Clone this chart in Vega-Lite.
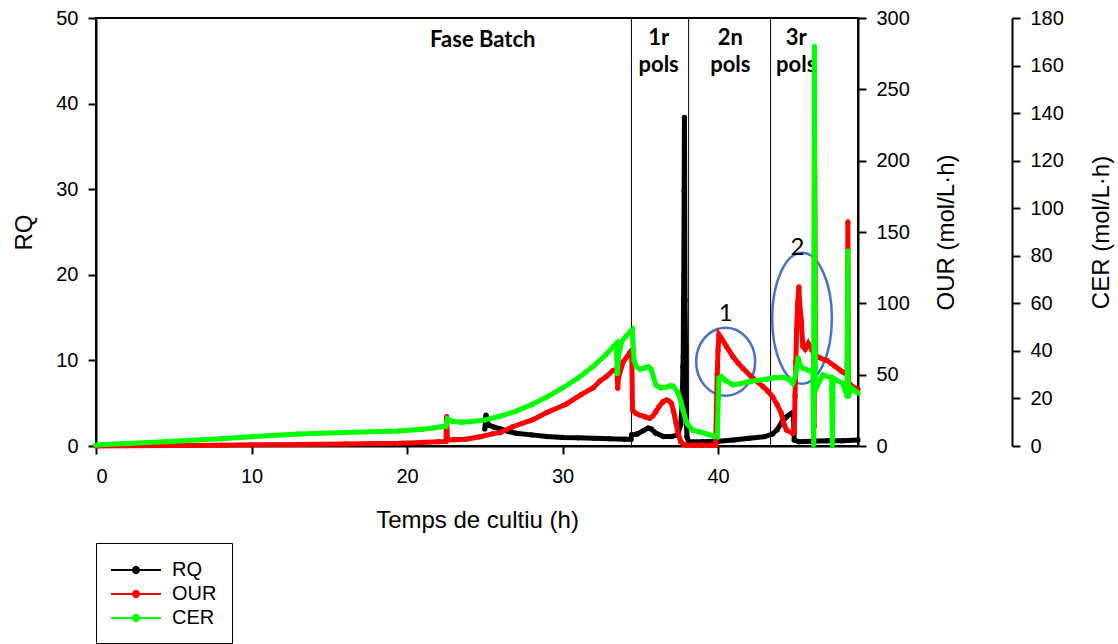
{
  "$schema": "https://vega.github.io/schema/vega-lite/v6.json",
  "width": 762,
  "height": 428,
  "autosize": {"type": "none"},
  "padding": {"left": 96, "top": 18, "right": 260, "bottom": 198},
  "background": "white",
  "config": {
    "view": {"stroke": "black", "strokeWidth": 2},
    "axis": {
      "grid": false,
      "domainColor": "black",
      "domainWidth": 2,
      "tickColor": "black",
      "tickWidth": 2,
      "tickSize": 8,
      "labelFont": "Liberation Sans",
      "labelFontSize": 20,
      "labelColor": "black",
      "labelPadding": 10,
      "titleFont": "Liberation Sans",
      "titleFontSize": 24,
      "titleFontWeight": "normal",
      "titleColor": "black"
    }
  },
  "datasets": {
    "rq": [
      {"t": 25.0, "v": 2.0}, {"t": 25.08, "v": 3.6}, {"t": 25.15, "v": 2.8}, {"t": 25.3, "v": 2.4},
      {"t": 25.6, "v": 2.2}, {"t": 26.0, "v": 2.0}, {"t": 26.5, "v": 1.7}, {"t": 27.0, "v": 1.5},
      {"t": 28.0, "v": 1.3}, {"t": 29.0, "v": 1.1}, {"t": 30.0, "v": 1.0}, {"t": 31.0, "v": 0.95},
      {"t": 32.0, "v": 0.9}, {"t": 33.0, "v": 0.85}, {"t": 34.0, "v": 0.8}, {"t": 34.4, "v": 0.8},
      {"t": 34.45, "v": 1.3}, {"t": 34.8, "v": 1.4}, {"t": 35.2, "v": 1.8}, {"t": 35.5, "v": 2.1},
      {"t": 35.7, "v": 2.0}, {"t": 36.0, "v": 1.5}, {"t": 36.5, "v": 1.1}, {"t": 37.0, "v": 1.1},
      {"t": 37.4, "v": 1.3}, {"t": 37.6, "v": 2.5}, {"t": 37.7, "v": 5.0}, {"t": 37.74, "v": 9.3},
      {"t": 37.76, "v": 10.4}, {"t": 37.78, "v": 17.1}, {"t": 37.8, "v": 20.0}, {"t": 37.82, "v": 29.7},
      {"t": 37.84, "v": 38.4}, {"t": 37.88, "v": 17.0}, {"t": 37.92, "v": 9.5}, {"t": 37.96, "v": 3.0},
      {"t": 38.0, "v": 1.1}, {"t": 38.1, "v": 0.5}, {"t": 39.0, "v": 0.5}, {"t": 40.0, "v": 0.55},
      {"t": 41.0, "v": 0.7}, {"t": 42.0, "v": 0.9}, {"t": 43.0, "v": 1.1}, {"t": 43.5, "v": 1.4},
      {"t": 43.8, "v": 1.9}, {"t": 44.1, "v": 2.8}, {"t": 44.4, "v": 3.4}, {"t": 44.7, "v": 3.8},
      {"t": 44.85, "v": 3.5}, {"t": 44.9, "v": 0.7}, {"t": 45.2, "v": 0.5}, {"t": 46.0, "v": 0.55},
      {"t": 47.0, "v": 0.6}, {"t": 48.0, "v": 0.6}, {"t": 49.0, "v": 0.7}
    ],
    "our": [
      {"t": 0, "v": 0}, {"t": 2, "v": 0.2}, {"t": 5, "v": 0.4}, {"t": 8, "v": 0.6},
      {"t": 10, "v": 0.8}, {"t": 13, "v": 1.1}, {"t": 16, "v": 1.4}, {"t": 19.5, "v": 1.9},
      {"t": 21, "v": 2.5}, {"t": 22, "v": 3.0}, {"t": 22.5, "v": 3.2}, {"t": 22.55, "v": 20.5},
      {"t": 22.6, "v": 4.2}, {"t": 23.0, "v": 4.4}, {"t": 23.8, "v": 4.8}, {"t": 24.7, "v": 6.5},
      {"t": 25.5, "v": 8.5}, {"t": 26.0, "v": 9.5}, {"t": 26.8, "v": 13.5}, {"t": 28.1, "v": 18.5},
      {"t": 29.0, "v": 23.5}, {"t": 30.25, "v": 29.5}, {"t": 31.2, "v": 36}, {"t": 32.0, "v": 41},
      {"t": 32.4, "v": 45.5}, {"t": 32.8, "v": 48.5}, {"t": 33.25, "v": 53}, {"t": 33.5, "v": 54},
      {"t": 33.55, "v": 40.4}, {"t": 33.6, "v": 48}, {"t": 33.9, "v": 59}, {"t": 34.3, "v": 65},
      {"t": 34.45, "v": 67}, {"t": 34.5, "v": 25.2}, {"t": 34.7, "v": 23}, {"t": 34.96, "v": 21.7},
      {"t": 35.3, "v": 20.5}, {"t": 35.6, "v": 19.4}, {"t": 35.8, "v": 21}, {"t": 36.0, "v": 24.0},
      {"t": 36.2, "v": 27.5}, {"t": 36.46, "v": 31.1}, {"t": 36.7, "v": 32.2}, {"t": 36.85, "v": 31.5},
      {"t": 37.0, "v": 29.9}, {"t": 37.15, "v": 24}, {"t": 37.3, "v": 15.9}, {"t": 37.45, "v": 8},
      {"t": 37.6, "v": 3.0}, {"t": 37.8, "v": 1.0}, {"t": 37.96, "v": 0.7}, {"t": 38.5, "v": 0.6},
      {"t": 39.0, "v": 0.6}, {"t": 39.5, "v": 0.6}, {"t": 39.85, "v": 0.6}, {"t": 39.9, "v": 27.6},
      {"t": 39.95, "v": 50}, {"t": 40.0, "v": 67}, {"t": 40.06, "v": 78}, {"t": 40.15, "v": 76.5},
      {"t": 40.3, "v": 74}, {"t": 40.53, "v": 70}, {"t": 40.96, "v": 62.6}, {"t": 41.3, "v": 58},
      {"t": 41.6, "v": 54.4}, {"t": 42.24, "v": 47.4}, {"t": 42.9, "v": 41.6}, {"t": 43.2, "v": 38.5},
      {"t": 43.5, "v": 34.6}, {"t": 43.8, "v": 29}, {"t": 44.07, "v": 22.9}, {"t": 44.25, "v": 15},
      {"t": 44.4, "v": 11.2}, {"t": 44.8, "v": 8.9}, {"t": 44.9, "v": 9.5}, {"t": 44.95, "v": 35},
      {"t": 45.0, "v": 58}, {"t": 45.05, "v": 81}, {"t": 45.12, "v": 100}, {"t": 45.2, "v": 111.5},
      {"t": 45.25, "v": 100}, {"t": 45.35, "v": 88}, {"t": 45.45, "v": 70}, {"t": 45.6, "v": 68},
      {"t": 45.8, "v": 72}, {"t": 46.0, "v": 68}, {"t": 46.15, "v": 65}, {"t": 46.18, "v": 13.5},
      {"t": 46.2, "v": 213}, {"t": 46.22, "v": 189}, {"t": 46.24, "v": 124}, {"t": 46.27, "v": 64},
      {"t": 46.5, "v": 62}, {"t": 47.0, "v": 60}, {"t": 47.5, "v": 56}, {"t": 48.0, "v": 52},
      {"t": 48.3, "v": 50}, {"t": 48.35, "v": 157}, {"t": 48.38, "v": 45}, {"t": 48.6, "v": 42},
      {"t": 49.0, "v": 40}
    ],
    "cer": [
      {"t": 0, "v": 0.4}, {"t": 2, "v": 1.0}, {"t": 5, "v": 2.0}, {"t": 8, "v": 3.1},
      {"t": 10, "v": 3.9}, {"t": 13, "v": 5.0}, {"t": 16, "v": 5.7}, {"t": 19.5, "v": 6.3},
      {"t": 21.0, "v": 7.0}, {"t": 21.7, "v": 7.6}, {"t": 22.2, "v": 8.1}, {"t": 22.5, "v": 8.3},
      {"t": 22.6, "v": 11.4}, {"t": 22.9, "v": 10.4}, {"t": 23.5, "v": 10.0}, {"t": 24.0, "v": 10.2},
      {"t": 25.0, "v": 10.9}, {"t": 26.0, "v": 12.6}, {"t": 27.0, "v": 14.6}, {"t": 28.0, "v": 17.4},
      {"t": 29.0, "v": 20.6}, {"t": 30.0, "v": 24.4}, {"t": 31.0, "v": 28.6}, {"t": 32.0, "v": 33.6},
      {"t": 32.8, "v": 38.5}, {"t": 33.3, "v": 42}, {"t": 33.45, "v": 43}, {"t": 33.52, "v": 30.5},
      {"t": 33.6, "v": 38}, {"t": 33.8, "v": 44}, {"t": 34.1, "v": 46.3}, {"t": 34.35, "v": 48},
      {"t": 34.48, "v": 48.8}, {"t": 34.6, "v": 36}, {"t": 34.75, "v": 33.4}, {"t": 35.0, "v": 32.3},
      {"t": 35.3, "v": 32.8}, {"t": 35.5, "v": 33.4}, {"t": 35.7, "v": 32.3}, {"t": 35.85, "v": 29},
      {"t": 36.0, "v": 25.7}, {"t": 36.3, "v": 24.5}, {"t": 36.7, "v": 24.8}, {"t": 36.9, "v": 25.3},
      {"t": 37.1, "v": 25.2}, {"t": 37.4, "v": 22.8}, {"t": 37.6, "v": 19}, {"t": 37.75, "v": 15.1},
      {"t": 37.95, "v": 10.5}, {"t": 38.07, "v": 8.8}, {"t": 38.4, "v": 6.5}, {"t": 38.8, "v": 6.0},
      {"t": 39.3, "v": 5.0}, {"t": 39.7, "v": 4.2}, {"t": 39.95, "v": 3.9}, {"t": 40.02, "v": 20},
      {"t": 40.06, "v": 28.5}, {"t": 40.2, "v": 29.2}, {"t": 40.5, "v": 27.5}, {"t": 40.96, "v": 25.7},
      {"t": 41.4, "v": 26.2}, {"t": 42.0, "v": 27.0}, {"t": 42.5, "v": 27.6}, {"t": 43.1, "v": 28.1},
      {"t": 43.6, "v": 28.7}, {"t": 44.2, "v": 28.9}, {"t": 44.6, "v": 27.8}, {"t": 44.8, "v": 26.4},
      {"t": 45.0, "v": 30}, {"t": 45.15, "v": 36.9}, {"t": 45.3, "v": 33.8}, {"t": 45.45, "v": 32.7},
      {"t": 45.8, "v": 31.8}, {"t": 46.1, "v": 31.3}, {"t": 46.15, "v": 0.5}, {"t": 46.2, "v": 168},
      {"t": 46.22, "v": 85}, {"t": 46.24, "v": 57}, {"t": 46.27, "v": 23.5}, {"t": 46.5, "v": 27},
      {"t": 46.75, "v": 29.9}, {"t": 47.0, "v": 29.3}, {"t": 47.3, "v": 28.8}, {"t": 47.35, "v": 0.5},
      {"t": 47.4, "v": 28.5}, {"t": 48.0, "v": 26.4}, {"t": 48.3, "v": 21}, {"t": 48.35, "v": 82},
      {"t": 48.38, "v": 21}, {"t": 48.6, "v": 24.3}, {"t": 49.0, "v": 22.2}
    ],
    "phases": [{"t": 34.43}, {"t": 38.11}, {"t": 43.38}],
    "phaseNames": [
      {"t": 24.87, "v": 46.6, "label": "Fase Batch"},
      {"t": 36.18, "v": 46.85, "label": "1r\npols"},
      {"t": 40.79, "v": 46.85, "label": "2n\npols"},
      {"t": 45.03, "v": 46.85, "label": "3r\npols"}
    ],
    "peakNumbers": [
      {"t": 40.49, "v": 14.64, "label": "1"},
      {"t": 45.1, "v": 22.3, "label": "2"}
    ]
  },
  "encoding": {
    "x": {
      "field": "t",
      "type": "quantitative",
      "scale": {"domain": [0, 49], "nice": false},
      "axis": {"values": [0, 10, 20, 30, 40], "title": "Temps de cultiu (h)", "labelPadding": 12, "titlePadding": 22}
    }
  },
  "layer": [
    {
      "data": {"name": "phases"},
      "mark": {"type": "rule", "color": "black", "strokeWidth": 1}
    },
    {
      "layer": [
        {
          "data": {"name": "rq"},
          "mark": {"type": "line", "strokeWidth": 5},
          "encoding": {
            "y": {"field": "v", "type": "quantitative", "scale": {"domain": [0, 50], "nice": false},
                  "axis": {"orient": "left", "values": [0, 10, 20, 30, 40, 50], "title": "RQ", "titlePadding": 19}},
            "color": {
              "datum": "RQ",
              "type": "nominal",
              "scale": {"domain": ["RQ", "OUR", "CER"], "range": ["#000000", "#ff0000", "#00ff00"]},
              "legend": {
                "orient": "none",
                "legendX": 0,
                "legendY": 525,
                "title": null,
                "symbolType": "M-1.09,0H3.45M0.91,0A0.273,0.273,0,1,1,1.455,0A0.273,0.273,0,1,1,0.91,0Z",
                "symbolSize": 484,
                "symbolStrokeWidth": 2,
                "labelFont": "Liberation Sans",
                "labelFontSize": 20,
                "labelColor": "black",
                "labelOffset": 37,
                "labelExpr": "datum.label + '\u00a0\u00a0\u00a0\u00a0\u00a0'",
                "rowPadding": 2,
                "padding": 15,
                "strokeColor": "black",
                "fillColor": "white",
                "encode": {
                  "symbols": {"update": {"fill": {"scale": "color", "field": "value"}, "stroke": {"scale": "color", "field": "value"}}}
                }
              }
            }
          }
        },
        {
          "data": {"name": "rq"},
          "mark": {"type": "point", "filled": true, "size": 28, "opacity": 1},
          "encoding": {
            "y": {"field": "v", "type": "quantitative"},
            "color": {"datum": "RQ", "type": "nominal"}
          }
        },
        {
          "data": {"name": "phaseNames"},
          "mark": {"type": "text", "font": "Lato", "fontWeight": "bold", "fontSize": 22, "align": "center", "baseline": "alphabetic", "lineBreak": "\n", "lineHeight": 27, "color": "black"},
          "encoding": {
            "y": {"field": "v", "type": "quantitative"},
            "text": {"field": "label"}
          }
        },
        {
          "data": {"values": [{"t": 40.49, "v": 9.85}]},
          "mark": {"type": "point", "shape": "M0,-1A0.868,1,0,1,1,0,1A0.868,1,0,1,1,0,-1Z", "size": 4624, "filled": false, "stroke": "#4472c4", "strokeWidth": 2.5, "opacity": 1},
          "encoding": {"y": {"field": "v", "type": "quantitative"}}
        },
        {
          "data": {"values": [{"t": 45.4, "v": 14.92}]},
          "mark": {"type": "point", "shape": "M0,-1A0.456,1,0,1,1,0,1A0.456,1,0,1,1,0,-1Z", "size": 17161, "filled": false, "stroke": "#4472c4", "strokeWidth": 2.5, "opacity": 1},
          "encoding": {"y": {"field": "v", "type": "quantitative"}}
        },
        {
          "data": {"name": "peakNumbers"},
          "mark": {"type": "text", "font": "Lato", "fontSize": 24, "align": "center", "baseline": "alphabetic", "color": "black"},
          "encoding": {
            "y": {"field": "v", "type": "quantitative"},
            "text": {"field": "label"}
          }
        }
      ]
    },
    {
      "data": {"name": "our"},
      "encoding": {
        "y": {"field": "v", "type": "quantitative", "scale": {"domain": [0, 300], "nice": false},
              "axis": {"orient": "right", "values": [0, 50, 100, 150, 200, 250, 300], "title": "OUR (mol/L·h)", "titleAngle": 270, "titlePadding": 49}},
        "color": {"datum": "OUR", "type": "nominal"}
      },
      "layer": [
        {"mark": {"type": "line", "strokeWidth": 5}},
        {"mark": {"type": "point", "filled": true, "size": 28, "opacity": 1}}
      ]
    },
    {
      "data": {"name": "cer"},
      "encoding": {
        "y": {"field": "v", "type": "quantitative", "scale": {"domain": [0, 180], "nice": false},
              "axis": {"orient": "right", "offset": 154, "values": [0, 20, 40, 60, 80, 100, 120, 140, 160, 180], "title": "CER (mol/L·h)", "titleAngle": 270, "titlePadding": 50}},
        "color": {"datum": "CER", "type": "nominal"}
      },
      "layer": [
        {"mark": {"type": "line", "strokeWidth": 5}},
        {"mark": {"type": "point", "filled": true, "size": 28, "opacity": 1}}
      ]
    }
  ],
  "resolve": {"scale": {"y": "independent"}}
}
